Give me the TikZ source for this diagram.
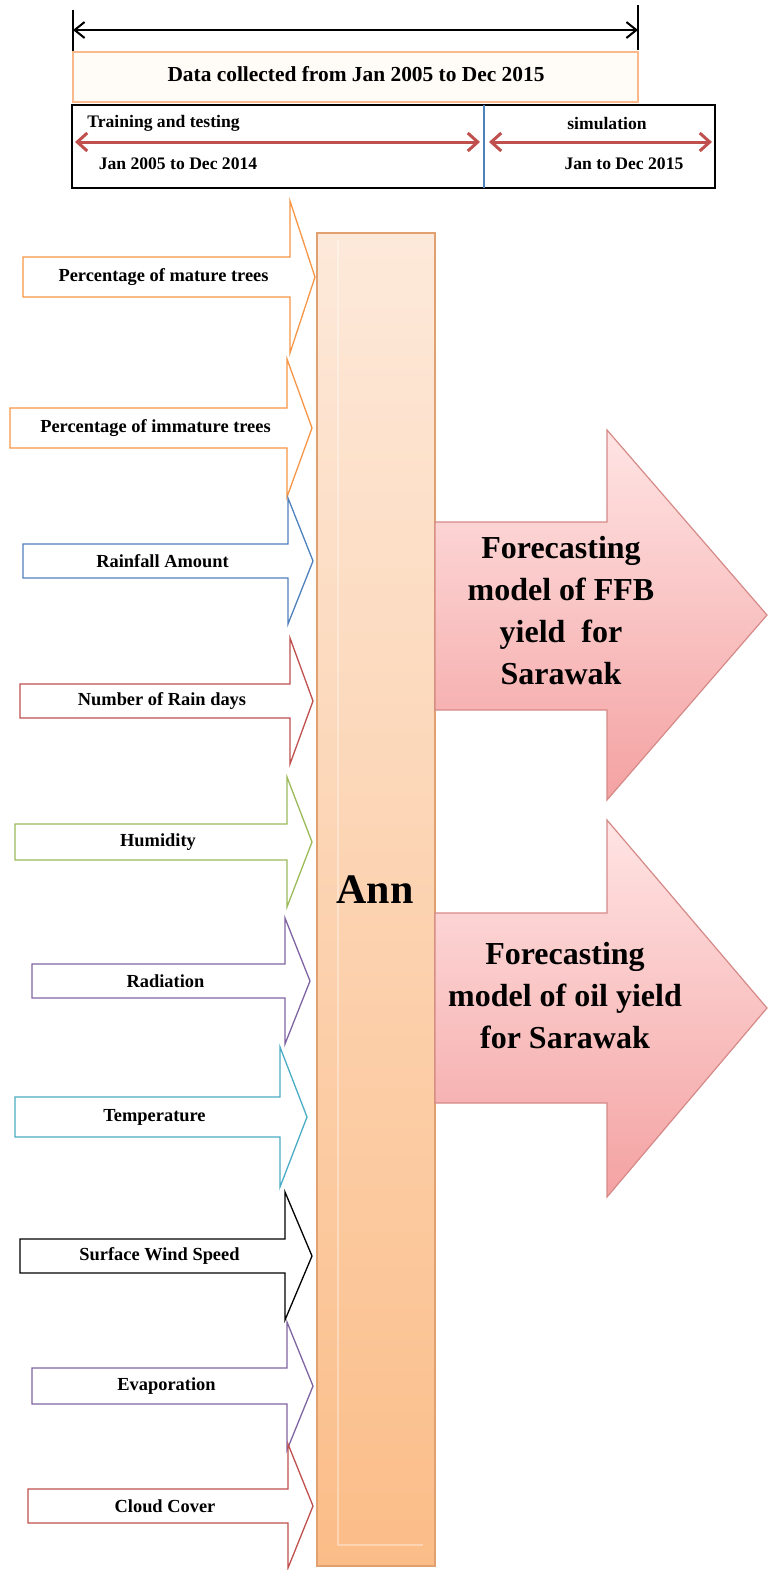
\documentclass[tikz,border=0pt]{standalone}
\usepackage{fontspec}
\setmainfont{Liberation Serif}
\usetikzlibrary{arrows.meta}
\definecolor{cOrange}{HTML}{F79646}
\definecolor{cBlue}{HTML}{4F81BD}
\definecolor{cRed}{HTML}{C0504D}
\definecolor{cGreen}{HTML}{9BBB59}
\definecolor{cPurple}{HTML}{8064A2}
\definecolor{cCyan}{HTML}{4BACC6}
\definecolor{annTop}{HTML}{FDE9DA}
\definecolor{annBot}{HTML}{FBBD88}
\definecolor{annLine}{HTML}{E0A070}
\definecolor{pinkTop}{HTML}{FFE4E4}
\definecolor{pinkBot}{HTML}{F4A2A2}
\definecolor{pinkLine}{HTML}{D58A88}
\definecolor{boxOrange}{HTML}{F9B98A}
\tikzset{
  inarr/.style={fill=white, line width=0.65pt, line join=miter},
  intext/.style={font=\bfseries\fontsize{9.2}{11}\selectfont, inner sep=0pt},
  toptext/.style={font=\bfseries\fontsize{8.8}{10.5}\selectfont, inner sep=0pt},
  bigarr/.style={draw=pinkLine, line width=0.6pt, top color=pinkTop, bottom color=pinkBot},
  bigtext/.style={font=\bfseries\fontsize{16}{21}\selectfont, align=center, inner sep=0pt},
  redarrow/.style={draw=cRed, line width=1.5pt, {Straight Barb[length=5pt,width=9pt,line width=1.5pt]}-{Straight Barb[length=5pt,width=9pt,line width=1.5pt]}},
}
\newcommand{\inarrow}[9]{%
  \draw[inarr, draw=#2] (#3,#6-#7) -- (#4,#6-#7) -- (#4,#6-#8) -- (#5,#6) -- (#4,#6+#8) -- (#4,#6+#7) -- (#3,#6+#7) -- cycle;
  \node[intext] (#1) at ({(#3+#4)/2+7},#6) {#9};
}
\begin{document}
\begin{tikzpicture}[x=0.5pt,y=-0.5pt]
\useasboundingbox[fill=white] (0,0) rectangle (769,1570);

% ---- top timeline ----
\coordinate (tlt) at (73,10);
\coordinate (tlb) at (73,52);
\coordinate (trt) at (638,5);
\coordinate (trb) at (638,50);
\draw[line width=1pt] (tlt) -- (tlb);
\draw[line width=1pt] (trt) -- (trb);
\coordinate (al) at (73,30);
\coordinate (ar) at (638,30);
\draw[line width=1pt, {Straight Barb[length=5pt,width=8pt,line width=1pt]}-{Straight Barb[length=5pt,width=8pt,line width=1pt]}] (al) -- (ar);

\draw[draw=boxOrange, fill=orange!3, line width=0.6pt] (73,52) rectangle (638,102);
\node[font=\bfseries\fontsize{10.7}{13}\selectfont, inner sep=0pt] (data) at (356,74) {Data collected from Jan 2005 to Dec 2015};

\draw[line width=1pt] (72,105) rectangle (715,188);
\coordinate (divt) at (484,105);
\coordinate (divb) at (484,188);
\draw[draw=cBlue, line width=0.8pt] (divt) -- (divb);

\node[toptext, anchor=west] (train) at (87,123) {Training and testing};
\node[toptext] (sim) at (607,123) {simulation};
\node[toptext] (jan1) at (178,164) {Jan 2005 to Dec 2014};
\node[toptext] (jan2) at (624,164) {Jan to Dec 2015};
\coordinate (r1a) at (75,142);
\coordinate (r1b) at (480,142);
\coordinate (r2a) at (489,142);
\coordinate (r2b) at (712,142);
\draw[redarrow] (r1a) -- (r1b);
\draw[redarrow] (r2a) -- (r2b);

% ---- input arrows ----
\inarrow{in1}{cOrange}{23}{290}{315}{277}{20}{76}{Percentage of mature trees}
\inarrow{in2}{cOrange}{10}{287}{312}{428}{20}{69}{Percentage of immature trees}
\inarrow{in3}{cBlue}{23}{288}{313}{561}{17}{63}{Rainfall Amount}
\inarrow{in4}{cRed}{20}{290}{313}{701}{17}{63}{Number of Rain days}
\inarrow{in5}{cGreen}{15}{287}{312}{842}{18}{65}{Humidity}
\inarrow{in6}{cPurple}{32}{285}{310}{981}{17}{63}{Radiation}
\inarrow{in7}{cCyan}{15}{280}{307}{1117}{20}{70}{Temperature}
\inarrow{in8}{black}{20}{285}{312}{1256}{17}{64}{Surface Wind Speed}
\inarrow{in9}{cPurple}{32}{287}{313}{1386}{18}{64}{Evaporation}
\inarrow{in10}{cRed}{28}{288}{313}{1506}{17}{62}{Cloud Cover}

% ---- ANN bar ----
\path[draw=annLine, line width=0.6pt, top color=annTop, bottom color=annBot] (317,233) rectangle (435,1566);
\draw[white, opacity=0.35, line width=1pt] (338,240) -- (338,1545) -- (423,1545);
\node[font=\bfseries\fontsize{21}{25}\selectfont, inner sep=0pt] (ann) at (375,890) {Ann};

% ---- output arrows ----
\path[bigarr] (435,522) -- (607,522) -- (607,430) -- (767,615) -- (607,800) -- (607,710) -- (435,710) -- cycle;
\node[bigtext] (ffb) at (561,611) {Forecasting\\model of FFB\\yield\ \ for\\Sarawak};

\path[bigarr] (435,913) -- (607,913) -- (607,820) -- (767,1008) -- (607,1197) -- (607,1103) -- (435,1103) -- cycle;
\node[bigtext] (oil) at (565,996) {Forecasting\\model of oil yield\\for Sarawak};
\end{tikzpicture}
\end{document}
